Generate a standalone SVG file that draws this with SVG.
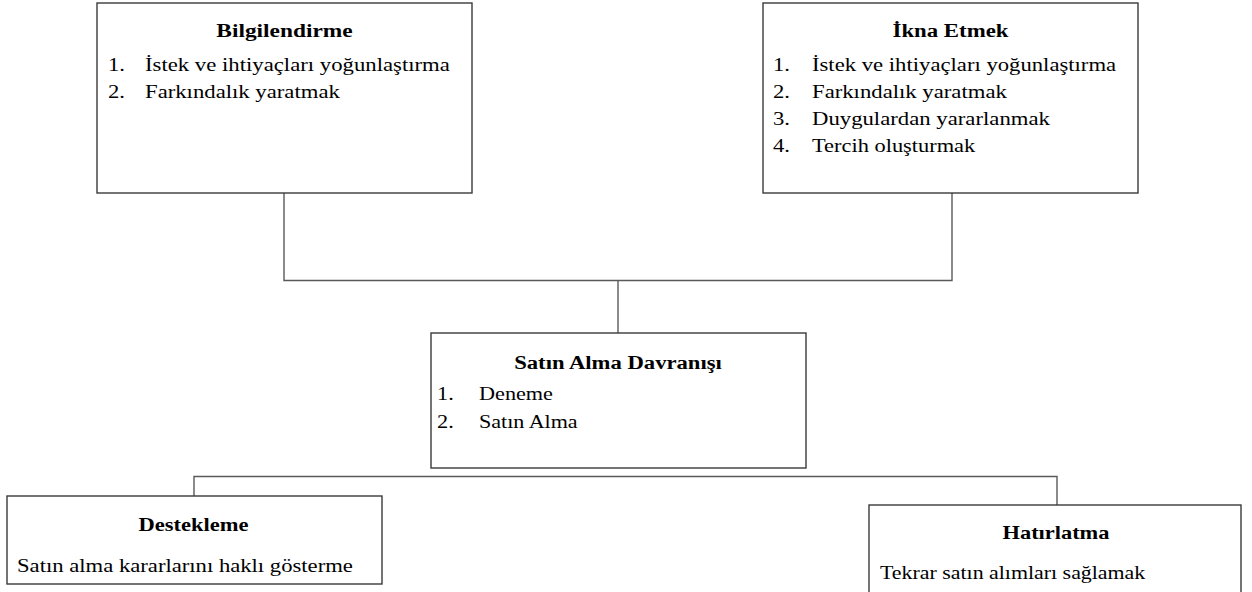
<svg xmlns="http://www.w3.org/2000/svg" width="1252" height="592" viewBox="0 0 1252 592">
<style>
.box{fill:#fff;stroke:#3a3a3a;stroke-width:1.4}
.con{fill:none;stroke:#5a5a5a;stroke-width:1.4}
.t{font-weight:bold;text-anchor:middle}
</style>
<rect width="1252" height="592" fill="#fff"/>
<g id="connectors">
<path class="con" d="M284,193 V280.5 H952 V193"/>
<path class="con" d="M618,280.5 V333"/>
<path class="con" d="M194,496 V476.5 H1057 V505"/>
</g>
<g font-family="'Liberation Serif', 'Times New Roman', serif" font-size="18" fill="#000">
<g id="bilgilendirme">
<rect class="box" x="97" y="3" width="375" height="190"/>
<text class="t" transform="translate(284.5,37) scale(1.3,1)">Bilgilendirme</text>
<text transform="translate(108,71) scale(1.26,1)">1.</text>
<text transform="translate(145,71) scale(1.263,1)">İstek ve ihtiyaçları yoğunlaştırma</text>
<text transform="translate(108,98) scale(1.26,1)">2.</text>
<text transform="translate(145,98) scale(1.262,1)">Farkındalık yaratmak</text>
</g>
<g id="ikna">
<rect class="box" x="763" y="3" width="375" height="190"/>
<text class="t" transform="translate(950.5,37) scale(1.268,1)">İkna Etmek</text>
<text transform="translate(773,71) scale(1.26,1)">1.</text>
<text transform="translate(812,71) scale(1.26,1)">İstek ve ihtiyaçları yoğunlaştırma</text>
<text transform="translate(773,98) scale(1.26,1)">2.</text>
<text transform="translate(812,98) scale(1.262,1)">Farkındalık yaratmak</text>
<text transform="translate(773,125) scale(1.26,1)">3.</text>
<text transform="translate(812,125) scale(1.263,1)">Duygulardan yararlanmak</text>
<text transform="translate(773,152) scale(1.26,1)">4.</text>
<text transform="translate(812,152) scale(1.245,1)">Tercih oluşturmak</text>
</g>
<g id="satin-alma">
<rect class="box" x="431" y="333" width="375" height="135"/>
<text class="t" transform="translate(618,369) scale(1.259,1)">Satın Alma Davranışı</text>
<text transform="translate(437,400) scale(1.24,1)">1.</text>
<text transform="translate(479,400) scale(1.234,1)">Deneme</text>
<text transform="translate(437,428) scale(1.24,1)">2.</text>
<text transform="translate(479,428) scale(1.227,1)">Satın Alma</text>
</g>
<g id="destekleme">
<rect class="box" x="7" y="496" width="375" height="88"/>
<text class="t" transform="translate(193.5,531) scale(1.25,1)">Destekleme</text>
<text transform="translate(17,572) scale(1.259,1)">Satın alma kararlarını haklı gösterme</text>
</g>
<g id="hatirlatma">
<rect class="box" x="869" y="505" width="372" height="100"/>
<text class="t" transform="translate(1056,539) scale(1.244,1)">Hatırlatma</text>
<text transform="translate(880,579) scale(1.217,1)">Tekrar satın alımları sağlamak</text>
</g>
</g>
</svg>
